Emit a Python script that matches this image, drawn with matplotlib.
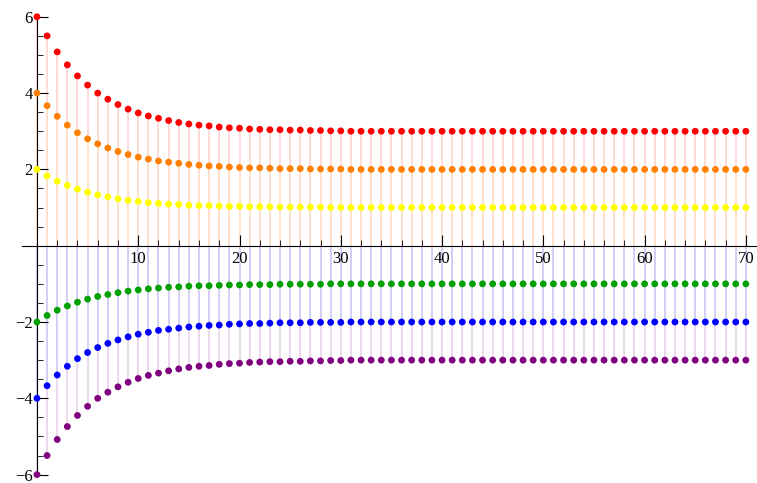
import matplotlib
matplotlib.use("Agg")
import matplotlib.pyplot as plt
import numpy as np
from matplotlib.ticker import FixedLocator, MultipleLocator

plt.rcParams['font.family'] = ['Liberation Serif', 'DejaVu Serif']

n = np.arange(71)

red = [6.00, 5.50, 5.08, 4.74, 4.45, 4.21, 4.00, 3.84, 3.70, 3.58, 3.48,
       3.40, 3.34, 3.28, 3.23, 3.19, 3.16, 3.14, 3.11, 3.09, 3.08, 3.06,
       3.05, 3.04, 3.04, 3.03, 3.03, 3.02, 3.02, 3.01, 3.01] + [3.0] * 40
orange = [4.00, 3.67, 3.39, 3.16, 2.96, 2.80, 2.67, 2.56, 2.47, 2.39, 2.32,
          2.27, 2.22, 2.19, 2.16, 2.13, 2.11, 2.09, 2.08, 2.06, 2.05, 2.04,
          2.04, 2.03, 2.02, 2.02, 2.02, 2.01, 2.01, 2.01, 2.01] + [2.0] * 40
yellow = [2.00, 1.83, 1.69, 1.58, 1.48, 1.40, 1.33, 1.28, 1.23, 1.19, 1.16,
          1.13, 1.11, 1.09, 1.08, 1.06, 1.05, 1.05, 1.04, 1.03, 1.03, 1.02,
          1.02, 1.02, 1.01, 1.01, 1.01, 1.01, 1.01, 1.00, 1.00] + [1.0] * 40
green = [-2.00, -1.83, -1.69, -1.58, -1.48, -1.40, -1.33, -1.28, -1.23, -1.19,
         -1.16, -1.13, -1.11, -1.09, -1.08, -1.06, -1.05, -1.05, -1.04, -1.03,
         -1.03, -1.02, -1.02, -1.02, -1.01, -1.01, -1.01, -1.01, -1.01, -1.00,
         -1.00] + [-1.0] * 40
blue = [-4.00, -3.67, -3.39, -3.16, -2.96, -2.80, -2.67, -2.56, -2.47, -2.39,
        -2.32, -2.27, -2.22, -2.19, -2.16, -2.13, -2.11, -2.09, -2.08, -2.06,
        -2.05, -2.04, -2.04, -2.03, -2.02, -2.02, -2.02, -2.01, -2.01, -2.01,
        -2.01] + [-2.0] * 40
purple = [-6.00, -5.50, -5.08, -4.74, -4.45, -4.21, -4.00, -3.84, -3.70, -3.58,
          -3.48, -3.40, -3.34, -3.28, -3.23, -3.19, -3.16, -3.14, -3.11, -3.09,
          -3.08, -3.06, -3.05, -3.04, -3.04, -3.03, -3.03, -3.02, -3.02, -3.01,
          -3.01] + [-3.0] * 40

# (values, point colour, stem colour), longest stems first
series = [
    (red, '#ff0000', '#fdd5d5'),
    (orange, '#ff8000', '#fde2cc'),
    (yellow, '#ffff00', '#fde2cc'),
    (purple, '#800080', '#ead2ea'),
    (blue, '#0000ff', '#d0d0f8'),
    (green, '#00a000', '#d0d0f8'),
]

fig = plt.figure(figsize=(7.57, 4.83), dpi=100)
ax = fig.add_axes([0, 0, 1, 1])

for vals, c, sc in series:
    ax.vlines(n, 0, vals, colors=sc, linewidth=1.2, zorder=1)
for vals, c, sc in series:
    ax.scatter(n, vals, s=24, color=c, edgecolors='none', zorder=4, clip_on=False)

ax.set_xlim(-3.65, 71.1)
ax.set_ylim(-6.22, 6.44)

for s in ['top', 'right']:
    ax.spines[s].set_visible(False)
ax.spines['left'].set_position(('data', 0))
ax.spines['bottom'].set_position(('data', 0))
ax.spines['left'].set_bounds(-6.05, 6.05)
ax.spines['bottom'].set_bounds(-1.5, 71.1)
ax.spines['left'].set_zorder(3)
ax.spines['bottom'].set_zorder(3)

ax.set_xticks([10, 20, 30, 40, 50, 60, 70])
ax.set_yticks([-6, -4, -2, 2, 4, 6])
ax.set_yticklabels(['\u22126', '\u22124', '\u22122', '2', '4', '6'])
ax.xaxis.set_minor_locator(FixedLocator(np.arange(2, 71, 2)))
ax.yaxis.set_minor_locator(MultipleLocator(0.5))
ax.tick_params(which='major', direction='in', length=8, width=0.8, labelsize=12)
ax.tick_params(which='minor', direction='in', length=4, width=0.6)
ax.tick_params(axis='x', pad=4)
ax.tick_params(axis='y', pad=3)

fig.savefig('out.png', dpi=100)
